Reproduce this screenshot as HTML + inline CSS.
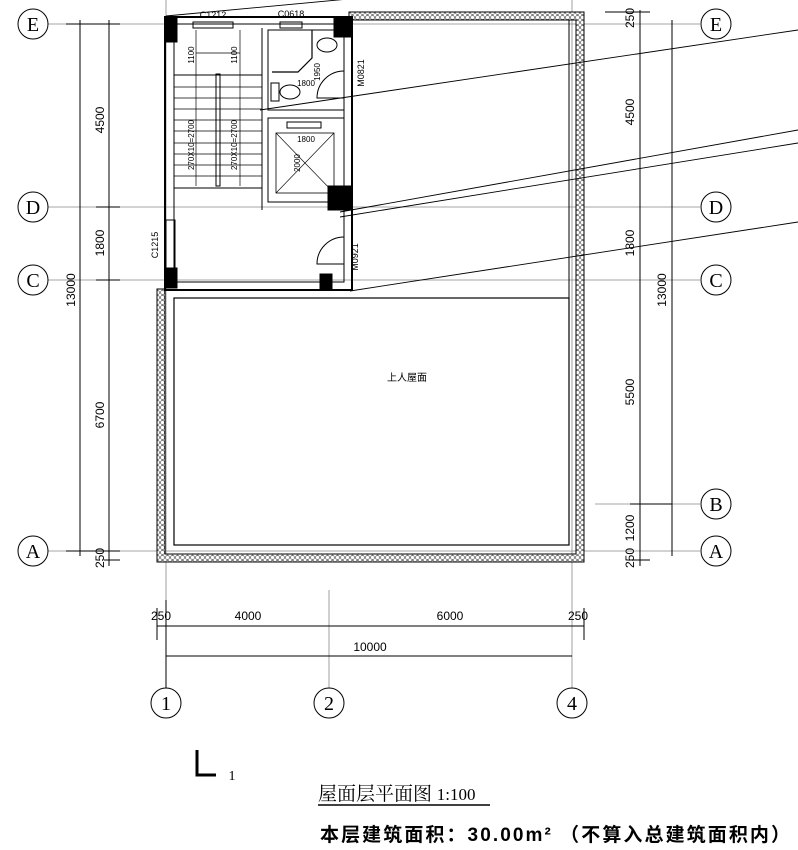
<!DOCTYPE html>
<html><head><meta charset="utf-8"><style>
body{margin:0;background:#fff;width:798px;height:850px;overflow:hidden}
svg{display:block}
text{font-family:"Liberation Sans","Noto Sans CJK SC",sans-serif;fill:#000}
</style></head><body>
<svg width="798" height="850" viewBox="0 0 798 850" xmlns="http://www.w3.org/2000/svg">
<defs>
<pattern id="h" width="5" height="5" patternUnits="userSpaceOnUse"><rect width="5" height="5" fill="#fff"/><circle cx="2.5" cy="2.5" r="2" fill="none" stroke="#555" stroke-width="0.7"/></pattern>
</defs>
<g stroke="#000" fill="none" stroke-width="1">
<g stroke="#888" stroke-width="0.8">
<line x1="48" y1="24" x2="700" y2="24"/>
<line x1="48" y1="207" x2="700" y2="207"/>
<line x1="48" y1="280" x2="700" y2="280"/>
<line x1="595" y1="504" x2="700" y2="504"/>
<line x1="48" y1="551" x2="700" y2="551"/>
<line x1="166" y1="0" x2="166" y2="688"/>
<line x1="329" y1="590" x2="329" y2="688"/>
<line x1="572" y1="0" x2="572" y2="688"/>
</g>
<path d="M349 12 H584 V562 H157 V289 H165 V554 H576 V20 H349 Z" fill="url(#h)" stroke="#000"/>
<rect x="174" y="298" width="395" height="247" stroke-width="1.2"/>
<line x1="358" y1="20" x2="569" y2="20"/>
<line x1="569" y1="20" x2="569" y2="298"/>
<rect x="165" y="17" width="187" height="273" stroke-width="2"/>
<rect x="174" y="24" width="170" height="258" stroke-width="1"/>
<rect x="165" y="17" width="12" height="25" fill="#000"/>
<rect x="334" y="17" width="18" height="20" fill="#000"/>
<rect x="165" y="268" width="12" height="20" fill="#000"/>
<rect x="320" y="274" width="12" height="16" fill="#000"/>
<rect x="328" y="186" width="24" height="24" fill="#000"/>
<rect x="193" y="22" width="40" height="6"/>
<rect x="280" y="22" width="22" height="6"/>
<rect x="166" y="220" width="9" height="50"/>
<line x1="262" y1="28" x2="262" y2="210"/>
<line x1="174" y1="75" x2="262" y2="75"/>
<line x1="174" y1="188" x2="262" y2="188"/>
<g stroke-width="0.7">
<line x1="174" y1="87" x2="262" y2="87"/><line x1="174" y1="98" x2="262" y2="98"/><line x1="174" y1="109" x2="262" y2="109"/><line x1="174" y1="120" x2="262" y2="120"/><line x1="174" y1="131" x2="262" y2="131"/><line x1="174" y1="143" x2="262" y2="143"/><line x1="174" y1="154" x2="262" y2="154"/><line x1="174" y1="165" x2="262" y2="165"/><line x1="174" y1="176" x2="262" y2="176"/>
<line x1="196" y1="30" x2="196" y2="186"/><line x1="240" y1="30" x2="240" y2="186"/>
<line x1="196" y1="53" x2="240" y2="53"/>
</g>
<rect x="216" y="74" width="4" height="112"/>
<rect x="268" y="30" width="76" height="80"/>
<rect x="268" y="118" width="76" height="84"/>
<rect x="276" y="133" width="58" height="60" stroke-width="0.8"/>
<line x1="276" y1="133" x2="334" y2="193" stroke-width="0.6"/>
<line x1="334" y1="133" x2="276" y2="193" stroke-width="0.6"/>
<rect x="287" y="122" width="34" height="6"/>
<path d="M272 72 L298 72 L312 58 L312 30" stroke-width="1.2"/>
<ellipse cx="327" cy="45" rx="10" ry="7"/>
<ellipse cx="290" cy="92" rx="10" ry="7"/>
<rect x="271" y="83" width="8" height="18"/>
<path d="M344 71 A27 27 0 0 0 317 98 L344 98"/>
<path d="M344 237 A27 27 0 0 0 317 264 L344 264"/>
<g stroke-width="0.9">
<line x1="166" y1="16" x2="370" y2="-3"/>
<line x1="260" y1="110" x2="798" y2="30"/>
<line x1="340" y1="212" x2="798" y2="130"/>
<line x1="340" y1="217" x2="798" y2="143"/>
<line x1="350" y1="291" x2="798" y2="222"/>
</g>
<line x1="80" y1="20" x2="80" y2="556"/>
<line x1="109" y1="20" x2="109" y2="566"/>
<line x1="66" y1="24" x2="120" y2="24"/><line x1="66" y1="551" x2="120" y2="551"/>
<line x1="96" y1="207" x2="120" y2="207"/><line x1="96" y1="280" x2="120" y2="280"/>
<line x1="104" y1="560" x2="120" y2="560"/>
<line x1="640" y1="10" x2="640" y2="566"/>
<line x1="672" y1="20" x2="672" y2="556"/>
<line x1="605" y1="12" x2="650" y2="12"/>
<line x1="630" y1="504" x2="672" y2="504"/><line x1="630" y1="560" x2="650" y2="560"/>
<line x1="157" y1="626" x2="584" y2="626"/>
<line x1="166" y1="656" x2="572" y2="656"/>
<line x1="157" y1="608" x2="157" y2="640"/><line x1="166" y1="600" x2="166" y2="688"/>
<line x1="584" y1="608" x2="584" y2="640"/>
<circle cx="33" cy="24" r="15" fill="#fff"/><circle cx="33" cy="207" r="15"/><circle cx="33" cy="280" r="15"/><circle cx="33" cy="551" r="15"/>
<circle cx="716" cy="24" r="15"/><circle cx="716" cy="207" r="15"/><circle cx="716" cy="280" r="15"/><circle cx="716" cy="504" r="15"/><circle cx="716" cy="551" r="15"/>
<circle cx="166" cy="703" r="15"/><circle cx="329" cy="703" r="15"/><circle cx="572" cy="703" r="15"/>
<path d="M197 750 V775 H216" stroke-width="3"/>
<line x1="318" y1="805" x2="490" y2="805" stroke-width="1.5"/>
</g>
<g font-size="20" text-anchor="middle" style="font-family:'Liberation Serif'">
<text x="33" y="31" style="font-family:'Liberation Serif'">E</text><text x="33" y="214" style="font-family:'Liberation Serif'">D</text><text x="33" y="287" style="font-family:'Liberation Serif'">C</text><text x="33" y="558" style="font-family:'Liberation Serif'">A</text>
<text x="716" y="31" style="font-family:'Liberation Serif'">E</text><text x="716" y="214" style="font-family:'Liberation Serif'">D</text><text x="716" y="287" style="font-family:'Liberation Serif'">C</text><text x="716" y="511" style="font-family:'Liberation Serif'">B</text><text x="716" y="558" style="font-family:'Liberation Serif'">A</text>
<text x="166" y="710" style="font-family:'Liberation Serif'">1</text><text x="329" y="710" style="font-family:'Liberation Serif'">2</text><text x="572" y="710" style="font-family:'Liberation Serif'">4</text>
</g>
<g font-size="12" text-anchor="middle">
<text transform="translate(104,120) rotate(-90)">4500</text>
<text transform="translate(104,243) rotate(-90)">1800</text>
<text transform="translate(104,415) rotate(-90)">6700</text>
<text transform="translate(75,290) rotate(-90)">13000</text>
<text transform="translate(104,558) rotate(-90)">250</text>
<text transform="translate(634,18) rotate(-90)">250</text>
<text transform="translate(634,112) rotate(-90)">4500</text>
<text transform="translate(634,243) rotate(-90)">1800</text>
<text transform="translate(634,392) rotate(-90)">5500</text>
<text transform="translate(634,528) rotate(-90)">1200</text>
<text transform="translate(634,558) rotate(-90)">250</text>
<text transform="translate(666,290) rotate(-90)">13000</text>
<text x="161" y="620">250</text><text x="248" y="620">4000</text><text x="450" y="620">6000</text><text x="578" y="620">250</text>
<text x="370" y="651">10000</text>
<text font-size="9" x="213" y="18">C1212</text><text font-size="9" x="291" y="17">C0618</text>
<text font-size="9" transform="translate(158,245) rotate(-90)">C1215</text>
<text font-size="9" transform="translate(364,73) rotate(-90)">M0821</text>
<text font-size="9" transform="translate(358,257) rotate(-90)">M0921</text>
<text font-size="8" transform="translate(194,145) rotate(-90)">270X10=2700</text>
<text font-size="8" transform="translate(237,145) rotate(-90)">270X10=2700</text>
<text font-size="8" transform="translate(194,55) rotate(-90)">1100</text>
<text font-size="8" transform="translate(237,55) rotate(-90)">1100</text>
<text font-size="8" x="306" y="86">1800</text><text font-size="8" transform="translate(320,72) rotate(-90)">1950</text>
<text font-size="8" x="306" y="142">1800</text><text font-size="8" transform="translate(300,163) rotate(-90)">2000</text>
<text font-size="10" x="407" y="381">上人屋面</text>
<text font-size="14" x="232" y="780" style="font-family:'Liberation Serif'">1</text>
</g>
<text x="318" y="800" font-size="19" style="font-family:'Liberation Serif','Noto Serif CJK SC',serif">屋面层平面图 <tspan font-size="17">1:100</tspan></text>
<text x="320" y="841" font-size="19" font-weight="bold" textLength="470" lengthAdjust="spacing">本层建筑面积：30.00m² （不算入总建筑面积内）</text>
</svg>
</body></html>
